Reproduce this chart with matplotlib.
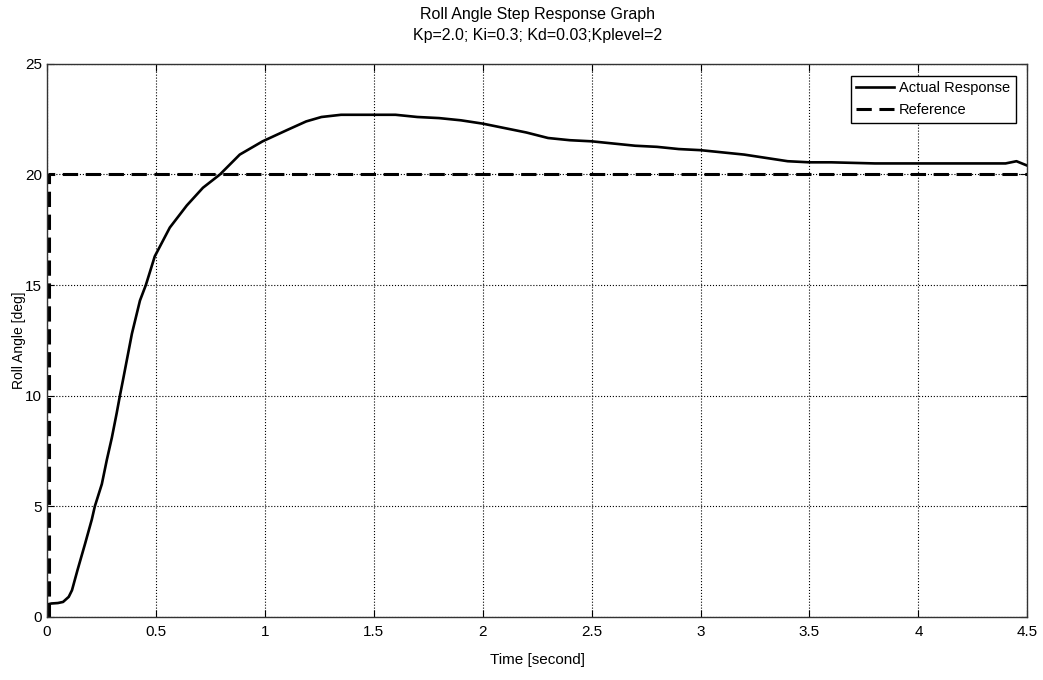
import numpy as np
import matplotlib.pyplot as plt

# actual response (time [s], roll angle [deg])
t_actual = [0.0, 0.02, 0.05, 0.074, 0.1, 0.115, 0.14, 0.175, 0.206, 0.22, 0.252, 0.275,
            0.298, 0.32, 0.335, 0.349, 0.39, 0.427, 0.454, 0.495, 0.564, 0.642, 0.716,
            0.794, 0.885, 0.99, 1.1, 1.19, 1.26, 1.35, 1.5, 1.6, 1.7, 1.8, 1.9, 2.0,
            2.1, 2.2, 2.3, 2.4, 2.5, 2.6, 2.7, 2.8, 2.9, 3.0, 3.1, 3.2, 3.3, 3.4,
            3.5, 3.6, 3.8, 4.0, 4.2, 4.4, 4.45, 4.5]
v_actual = [0.55, 0.6, 0.62, 0.67, 0.9, 1.2, 2.1, 3.3, 4.4, 5.0, 6.0, 7.1,
            8.1, 9.2, 10.0, 10.7, 12.8, 14.3, 15.0, 16.3, 17.6, 18.6, 19.4,
            20.0, 20.9, 21.5, 22.0, 22.4, 22.6, 22.7, 22.7, 22.7, 22.6, 22.55, 22.45, 22.3,
            22.1, 21.9, 21.65, 21.55, 21.5, 21.4, 21.3, 21.25, 21.15, 21.1, 21.0, 20.9, 20.75, 20.6,
            20.55, 20.55, 20.5, 20.5, 20.5, 20.5, 20.6, 20.4]

# reference step
t_ref = [0.0, 0.01, 0.01, 4.5]
v_ref = [0.0, 0.0, 20.0, 20.0]

plt.rcParams['font.family'] = ['Liberation Sans', 'DejaVu Sans']

fig = plt.figure(figsize=(10.43, 6.8), dpi=100)
ax = fig.add_axes([0.045, 0.093, 0.94, 0.813])

ax.plot(t_actual, v_actual, color='black', lw=1.9, label='Actual Response')
ax.plot(t_ref, v_ref, color='black', lw=2.2, ls=(0, (5, 2.5)), label='Reference')

ax.set_xlim(0, 4.5)
ax.set_ylim(0, 25)
ax.set_xticks(np.arange(0, 4.51, 0.5))
ax.set_xticklabels(['0', '0.5', '1', '1.5', '2', '2.5', '3', '3.5', '4', '4.5'])
ax.set_yticks(np.arange(0, 26, 5))
ax.tick_params(direction='in', top=True, right=True, labelsize=11, length=5)
ax.tick_params(axis='x', pad=6)
ax.grid(True, color='black', ls=':', lw=0.8)
for s in ax.spines.values():
    s.set_linewidth(1.0)
    s.set_color('#333333')

ax.set_xlabel('Time [second]', fontsize=11, labelpad=10)
ax.set_ylabel('Roll Angle [deg]', fontsize=10, labelpad=-1)
ax.set_title('Roll Angle Step Response Graph\nKp=2.0; Ki=0.3; Kd=0.03;Kplevel=2', fontsize=11.5, pad=17,
             linespacing=1.5)

leg = ax.legend(loc='upper right', fontsize=10.5, fancybox=False, edgecolor='black',
                framealpha=1, handlelength=2.6, handletextpad=0.3, borderaxespad=0.8)
leg.get_frame().set_linewidth(1.0)

fig.savefig('out.png', dpi=100)
